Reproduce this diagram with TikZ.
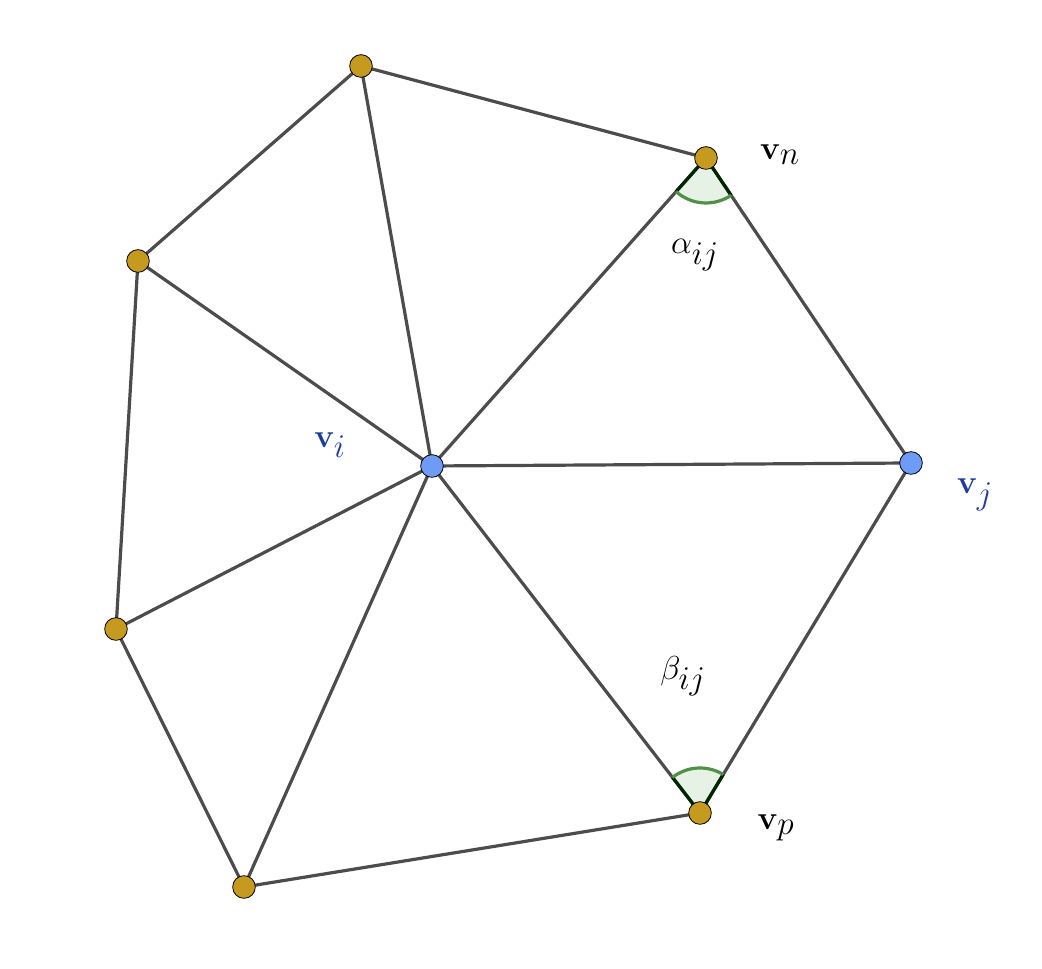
\documentclass[tikz,border=0pt]{standalone}
\usetikzlibrary{calc}
\begin{document}
\begin{tikzpicture}[x=0.75pt,y=0.75pt,
  edge/.style={draw=black!70,line width=2.4pt},
  dk/.style={draw=green!15!black,line width=2.4pt},
  gold/.style={circle,draw=black,line width=0.6pt,fill={rgb,255:red,198;green,154;blue,30},minimum size=17pt,inner sep=0pt},
  blue/.style={circle,draw=black,line width=0.6pt,fill={rgb,255:red,110;green,155;blue,245},minimum size=17pt,inner sep=0pt},
  lbl/.style={font=\fontsize{38}{44}\selectfont},
  wedge/.style={fill=green!50!black!10},
  arcs/.style={draw={rgb,255:red,80;green,145;blue,70},line width=2.4pt}]
\useasboundingbox (0,0) rectangle (1042,969);
\coordinate (vi) at (432,503);
\coordinate (vj) at (911,506);
\coordinate (vn) at (706,811);
\coordinate (vp) at (700,156);
\coordinate (t) at (361,903);
\coordinate (l1) at (138,708);
\coordinate (l2) at (116,340);
\coordinate (b) at (244,82);
\fill[wedge] (vn) -- ++(228.3:45) arc (228.3:303.9:45) -- cycle;
\fill[wedge] (vp) -- ++(58.9:45) arc (58.9:127.7:45) -- cycle;
\draw[edge] (t) -- (vn) -- (vj) -- (vp) -- (b) -- (l2) -- (l1) -- (t);
\foreach \p in {t,vn,vj,vp,b,l2,l1} \draw[edge] (vi) -- (\p);
\draw[dk] ($(vn)+(228.3:45)$) -- (vn) -- ($(vn)+(303.9:45)$);
\draw[dk] ($(vp)+(58.9:45)$) -- (vp) -- ($(vp)+(127.7:45)$);
\draw[arcs] ($(vn)+(228.3:45)$) arc (228.3:303.9:45);
\draw[arcs] ($(vp)+(58.9:45)$) arc (58.9:127.7:45);
\node[gold] (nt) at (t) {};
\node[gold] (nl1) at (l1) {};
\node[gold] (nl2) at (l2) {};
\node[gold] (nb) at (b) {};
\node[gold] (nn) at (vn) {};
\node[gold] (np) at (vp) {};
\node[blue] (ni) at (vi) {};
\node[blue] (nj) at (vj) {};
\node[lbl] (Ln) at (780,814) {$\mathbf{v}_n$};
\node[lbl] (La) at (695,714) {$\alpha_{ij}$};
\node[lbl,text={rgb,255:red,30;green,60;blue,160}] (Li) at (330,524) {$\mathbf{v}_i$};
\node[lbl,text={rgb,255:red,30;green,60;blue,160}] (Lj) at (975,474) {$\mathbf{v}_j$};
\node[lbl] (Lb) at (683,293) {$\beta_{ij}$};
\node[lbl] (Lp) at (776,141) {$\mathbf{v}_p$};
\end{tikzpicture}
\end{document}
